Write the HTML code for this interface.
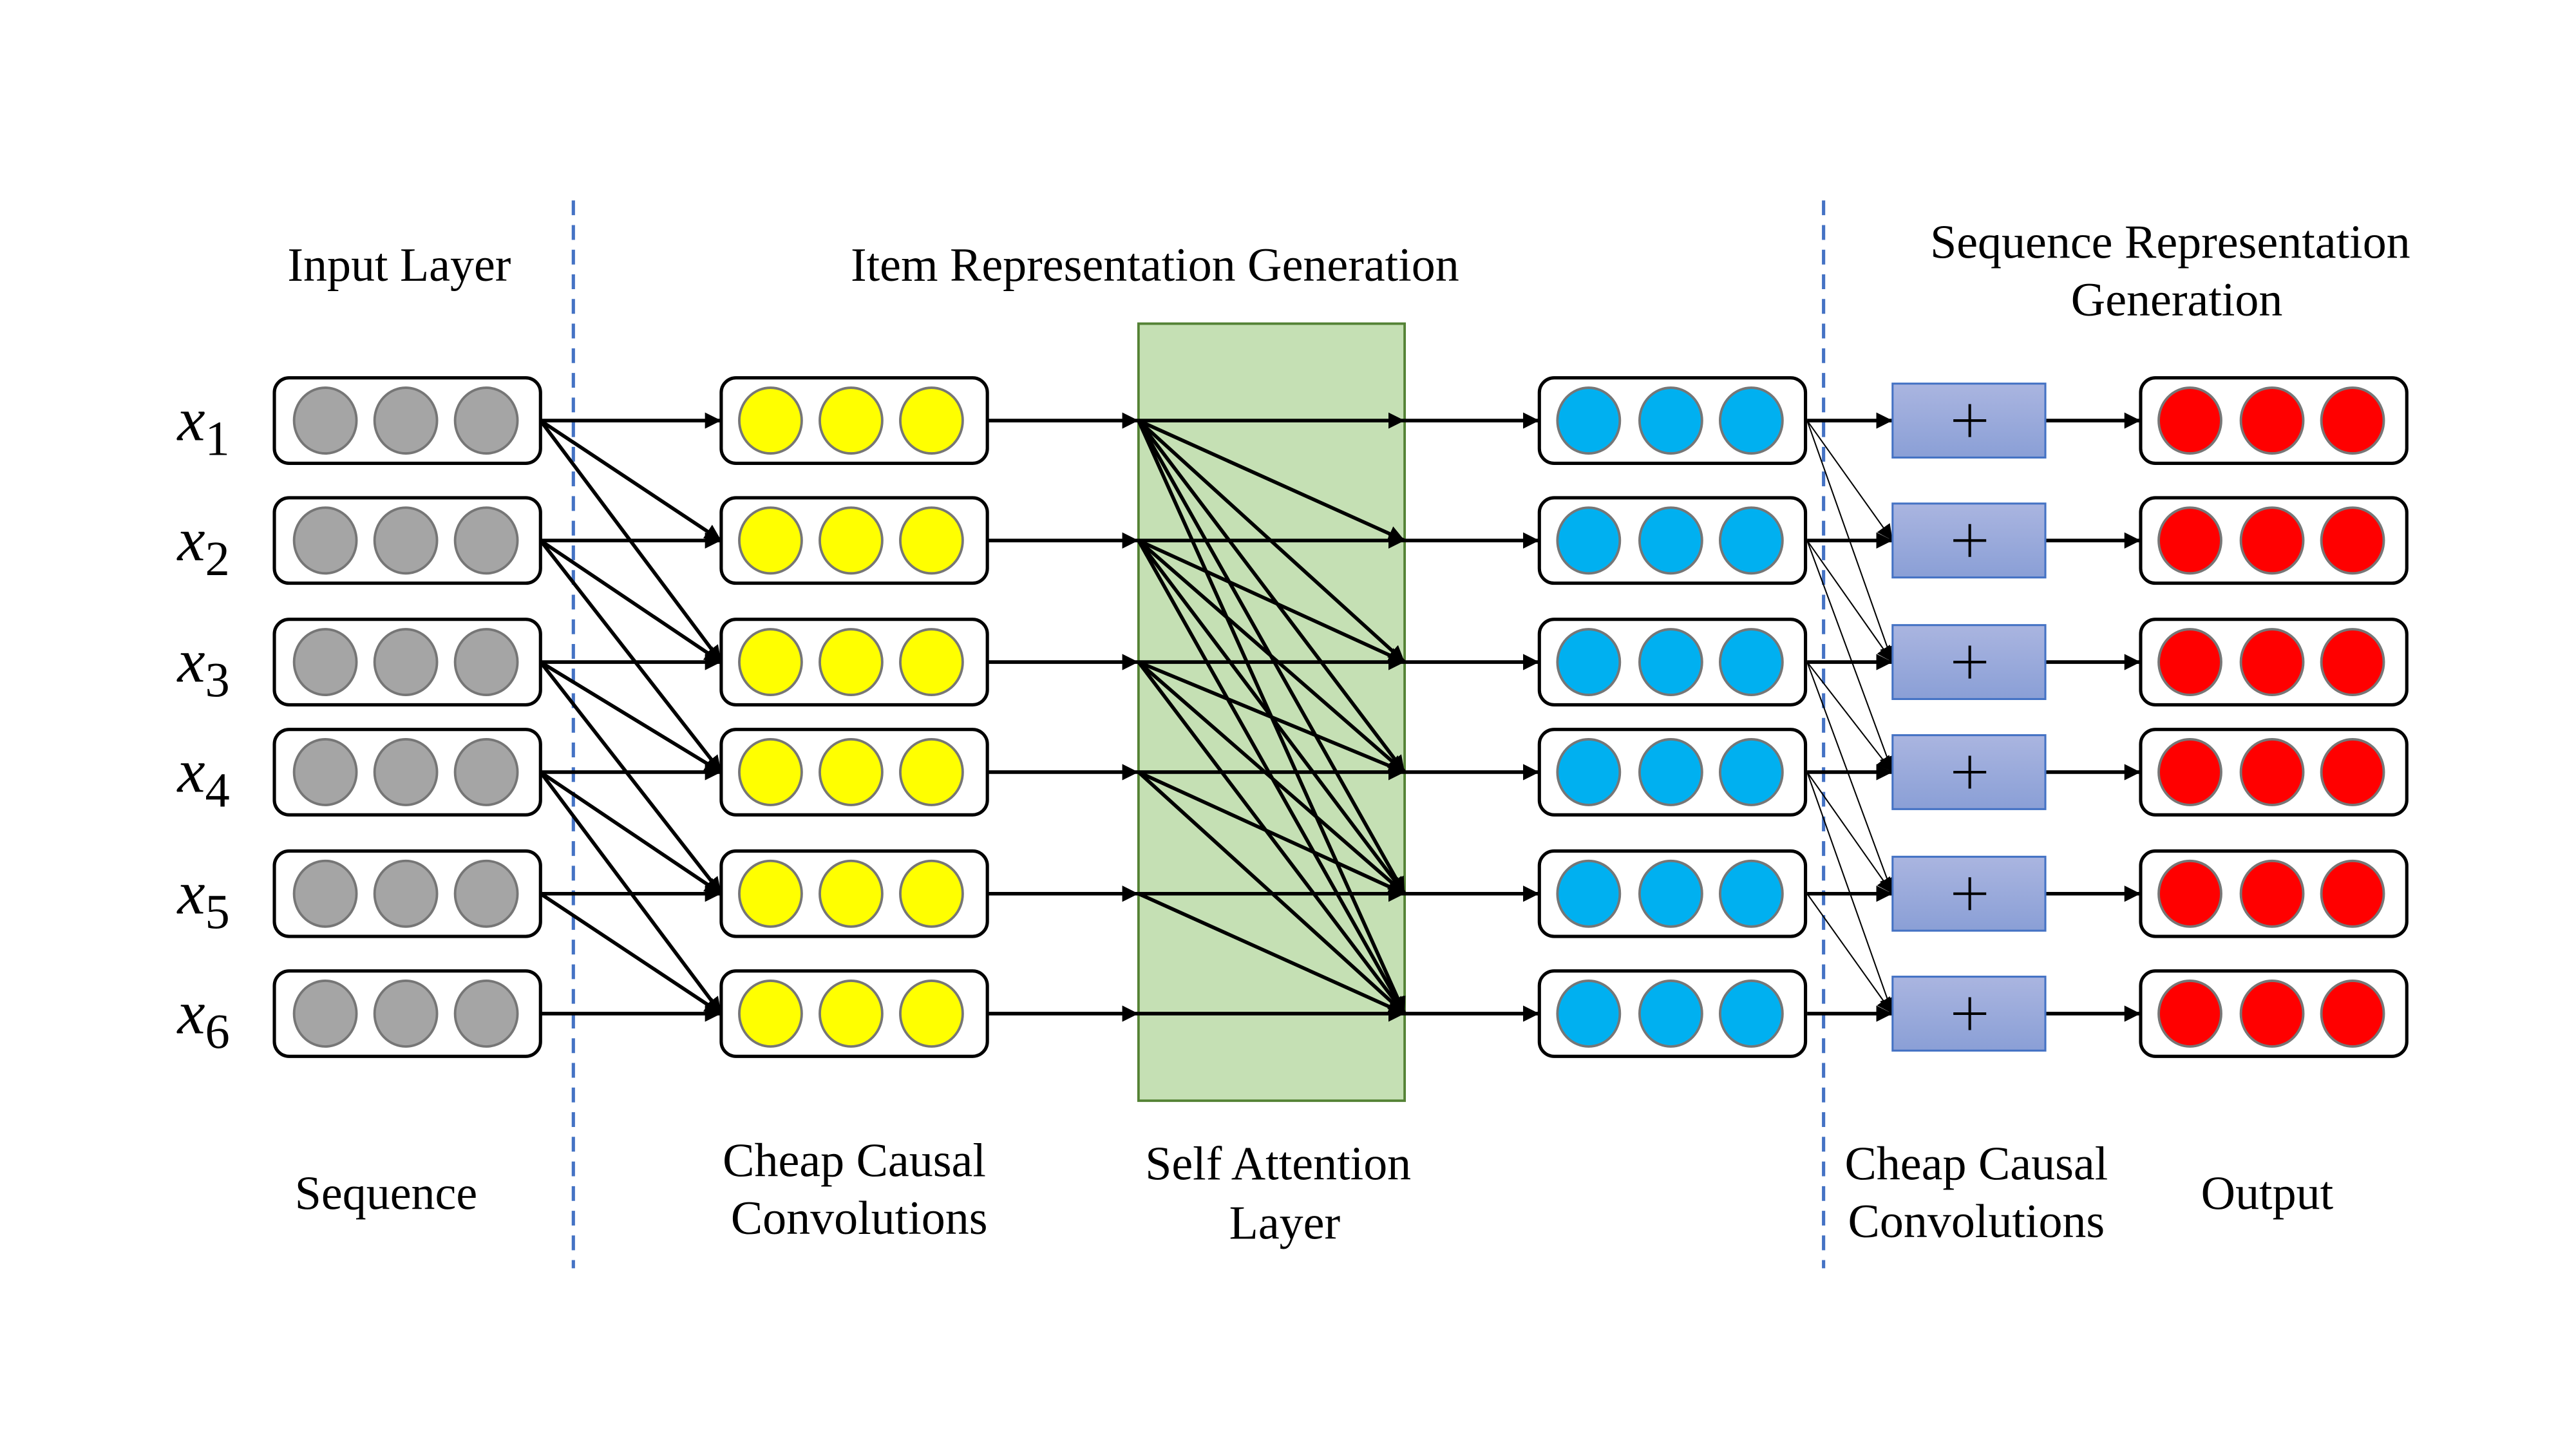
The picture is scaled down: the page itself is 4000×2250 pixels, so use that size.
<!DOCTYPE html>
<html><head><style>html,body{margin:0;padding:0;background:#fff}svg{display:block}</style></head>
<body>
<svg xmlns="http://www.w3.org/2000/svg" xmlns:xlink="http://www.w3.org/1999/xlink" width="4000" height="2250" viewBox="0 0 1568 882">
<defs>
<marker id="a" viewBox="0 0 10 10" refX="10" refY="5" markerWidth="4.5" markerHeight="4.5" orient="auto" markerUnits="strokeWidth"><path d="M0,0L10,5L0,10z" fill="#000"/></marker>
<marker id="b" viewBox="0 0 10 10" refX="10" refY="5" markerWidth="12" markerHeight="12" orient="auto" markerUnits="strokeWidth"><path d="M0,0L10,5L0,10z" fill="#000"/></marker>
<linearGradient id="g" x1="0" y1="0" x2="0" y2="1"><stop offset="0" stop-color="#aab5e0"/><stop offset="1" stop-color="#8a9fd6"/></linearGradient>
<g id="gb"><rect x="0" y="-26" width="162" height="52" rx="9" fill="#fff" stroke="#000" stroke-width="2"/><ellipse cx="31" cy="0" rx="19" ry="20" fill="#a5a5a5" stroke="#767676" stroke-width="1.5"/><ellipse cx="80" cy="0" rx="19" ry="20" fill="#a5a5a5" stroke="#767676" stroke-width="1.5"/><ellipse cx="129" cy="0" rx="19" ry="20" fill="#a5a5a5" stroke="#767676" stroke-width="1.5"/></g>
<g id="yb"><rect x="0" y="-26" width="162" height="52" rx="9" fill="#fff" stroke="#000" stroke-width="2"/><ellipse cx="30" cy="0" rx="19" ry="20" fill="#ffff00" stroke="#767676" stroke-width="1.5"/><ellipse cx="79" cy="0" rx="19" ry="20" fill="#ffff00" stroke="#767676" stroke-width="1.5"/><ellipse cx="128" cy="0" rx="19" ry="20" fill="#ffff00" stroke="#767676" stroke-width="1.5"/></g>
<g id="bb"><rect x="0" y="-26" width="162" height="52" rx="9" fill="#fff" stroke="#000" stroke-width="2"/><ellipse cx="30" cy="0" rx="19" ry="20" fill="#00b0f0" stroke="#767676" stroke-width="1.5"/><ellipse cx="80" cy="0" rx="19" ry="20" fill="#00b0f0" stroke="#767676" stroke-width="1.5"/><ellipse cx="129" cy="0" rx="19" ry="20" fill="#00b0f0" stroke="#767676" stroke-width="1.5"/></g>
<g id="rb"><rect x="0" y="-26" width="162" height="52" rx="9" fill="#fff" stroke="#000" stroke-width="2"/><ellipse cx="30" cy="0" rx="19" ry="20" fill="#ff0000" stroke="#767676" stroke-width="1.5"/><ellipse cx="80" cy="0" rx="19" ry="20" fill="#ff0000" stroke="#767676" stroke-width="1.5"/><ellipse cx="129" cy="0" rx="19" ry="20" fill="#ff0000" stroke="#767676" stroke-width="1.5"/></g>
<g id="pb"><rect x="0" y="-22.5" width="93" height="45" fill="url(#g)" stroke="#4472c4" stroke-width="1.2"/><path d="M37,0H57M47,-10V10" stroke="#000" stroke-width="1.6"/></g>
</defs>
<rect width="1568" height="882" fill="#fff"/>
<line x1="349" y1="122" x2="349" y2="772" stroke="#4472c4" stroke-width="2" stroke-dasharray="9,6"/>
<line x1="1110" y1="122" x2="1110" y2="772" stroke="#4472c4" stroke-width="2" stroke-dasharray="9,6"/>
<rect x="693" y="197" width="162" height="473" fill="#c5e0b4" stroke="#548235" stroke-width="1.5"/>

<g stroke="#000" stroke-width="2.2" marker-end="url(#a)">
<line x1="329" y1="256" x2="439" y2="256"/><line x1="329" y1="256" x2="439" y2="329"/><line x1="329" y1="256" x2="439" y2="403"/>
<line x1="329" y1="329" x2="439" y2="329"/><line x1="329" y1="329" x2="439" y2="403"/><line x1="329" y1="329" x2="439" y2="470"/>
<line x1="329" y1="403" x2="439" y2="403"/><line x1="329" y1="403" x2="439" y2="470"/><line x1="329" y1="403" x2="439" y2="544"/>
<line x1="329" y1="470" x2="439" y2="470"/><line x1="329" y1="470" x2="439" y2="544"/><line x1="329" y1="470" x2="439" y2="617"/>
<line x1="329" y1="544" x2="439" y2="544"/><line x1="329" y1="544" x2="439" y2="617"/>
<line x1="329" y1="617" x2="439" y2="617"/>

<line x1="601" y1="256" x2="693" y2="256"/><line x1="601" y1="329" x2="693" y2="329"/><line x1="601" y1="403" x2="693" y2="403"/><line x1="601" y1="470" x2="693" y2="470"/><line x1="601" y1="544" x2="693" y2="544"/><line x1="601" y1="617" x2="693" y2="617"/>

<line x1="693" y1="256" x2="855" y2="256"/><line x1="693" y1="256" x2="855" y2="329"/><line x1="693" y1="256" x2="855" y2="403"/><line x1="693" y1="256" x2="855" y2="470"/><line x1="693" y1="256" x2="855" y2="544"/><line x1="693" y1="256" x2="855" y2="617"/>
<line x1="693" y1="329" x2="855" y2="329"/><line x1="693" y1="329" x2="855" y2="403"/><line x1="693" y1="329" x2="855" y2="470"/><line x1="693" y1="329" x2="855" y2="544"/><line x1="693" y1="329" x2="855" y2="617"/>
<line x1="693" y1="403" x2="855" y2="403"/><line x1="693" y1="403" x2="855" y2="470"/><line x1="693" y1="403" x2="855" y2="544"/><line x1="693" y1="403" x2="855" y2="617"/>
<line x1="693" y1="470" x2="855" y2="470"/><line x1="693" y1="470" x2="855" y2="544"/><line x1="693" y1="470" x2="855" y2="617"/>
<line x1="693" y1="544" x2="855" y2="544"/><line x1="693" y1="544" x2="855" y2="617"/>
<line x1="693" y1="617" x2="855" y2="617"/>

<line x1="855" y1="256" x2="937" y2="256"/><line x1="855" y1="329" x2="937" y2="329"/><line x1="855" y1="403" x2="937" y2="403"/><line x1="855" y1="470" x2="937" y2="470"/><line x1="855" y1="544" x2="937" y2="544"/><line x1="855" y1="617" x2="937" y2="617"/>

<line x1="1100" y1="256" x2="1152" y2="256"/><line x1="1100" y1="329" x2="1152" y2="329"/><line x1="1100" y1="403" x2="1152" y2="403"/><line x1="1100" y1="470" x2="1152" y2="470"/><line x1="1100" y1="544" x2="1152" y2="544"/><line x1="1100" y1="617" x2="1152" y2="617"/>

<line x1="1245" y1="256" x2="1303" y2="256"/><line x1="1245" y1="329" x2="1303" y2="329"/><line x1="1245" y1="403" x2="1303" y2="403"/><line x1="1245" y1="470" x2="1303" y2="470"/><line x1="1245" y1="544" x2="1303" y2="544"/><line x1="1245" y1="617" x2="1303" y2="617"/>
</g>

<g stroke="#000" stroke-width="0.8" marker-end="url(#b)">
<line x1="1100" y1="256" x2="1152" y2="329"/><line x1="1100" y1="256" x2="1152" y2="403"/>
<line x1="1100" y1="329" x2="1152" y2="403"/><line x1="1100" y1="329" x2="1152" y2="470"/>
<line x1="1100" y1="403" x2="1152" y2="470"/><line x1="1100" y1="403" x2="1152" y2="544"/>
<line x1="1100" y1="470" x2="1152" y2="544"/><line x1="1100" y1="470" x2="1152" y2="617"/>
<line x1="1100" y1="544" x2="1152" y2="617"/>
</g>

<use xlink:href="#gb" x="167" y="256"/><use xlink:href="#gb" x="167" y="329"/><use xlink:href="#gb" x="167" y="403"/><use xlink:href="#gb" x="167" y="470"/><use xlink:href="#gb" x="167" y="544"/><use xlink:href="#gb" x="167" y="617"/>
<use xlink:href="#yb" x="439" y="256"/><use xlink:href="#yb" x="439" y="329"/><use xlink:href="#yb" x="439" y="403"/><use xlink:href="#yb" x="439" y="470"/><use xlink:href="#yb" x="439" y="544"/><use xlink:href="#yb" x="439" y="617"/>
<use xlink:href="#bb" x="937" y="256"/><use xlink:href="#bb" x="937" y="329"/><use xlink:href="#bb" x="937" y="403"/><use xlink:href="#bb" x="937" y="470"/><use xlink:href="#bb" x="937" y="544"/><use xlink:href="#bb" x="937" y="617"/>
<use xlink:href="#pb" x="1152" y="256"/><use xlink:href="#pb" x="1152" y="329"/><use xlink:href="#pb" x="1152" y="403"/><use xlink:href="#pb" x="1152" y="470"/><use xlink:href="#pb" x="1152" y="544"/><use xlink:href="#pb" x="1152" y="617"/>
<use xlink:href="#rb" x="1303" y="256"/><use xlink:href="#rb" x="1303" y="329"/><use xlink:href="#rb" x="1303" y="403"/><use xlink:href="#rb" x="1303" y="470"/><use xlink:href="#rb" x="1303" y="544"/><use xlink:href="#rb" x="1303" y="617"/>

<g font-family="Liberation Serif, serif" font-size="29" text-anchor="middle" fill="#000">
<text x="243" y="171">Input Layer</text>
<text x="703" y="171">Item Representation Generation</text>
<text x="1321" y="157">Sequence Representation</text>
<text x="1325" y="192">Generation</text>
<text x="235" y="736">Sequence</text>
<text x="520" y="716">Cheap Causal</text>
<text x="523" y="751">Convolutions</text>
<text x="778" y="718">Self Attention</text>
<text x="782" y="754">Layer</text>
<text x="1203" y="718">Cheap Causal</text>
<text x="1203" y="753">Convolutions</text>
<text x="1380" y="736">Output</text>
</g>
<g font-family="Liberation Serif, serif" font-style="italic" font-size="38" fill="#000">
<text x="108" y="268">x<tspan font-style="normal" font-size="30" dy="9">1</tspan></text>
<text x="108" y="341">x<tspan font-style="normal" font-size="30" dy="9">2</tspan></text>
<text x="108" y="415">x<tspan font-style="normal" font-size="30" dy="9">3</tspan></text>
<text x="108" y="482">x<tspan font-style="normal" font-size="30" dy="9">4</tspan></text>
<text x="108" y="556">x<tspan font-style="normal" font-size="30" dy="9">5</tspan></text>
<text x="108" y="629">x<tspan font-style="normal" font-size="30" dy="9">6</tspan></text>
</g>
</svg>
</body></html>
